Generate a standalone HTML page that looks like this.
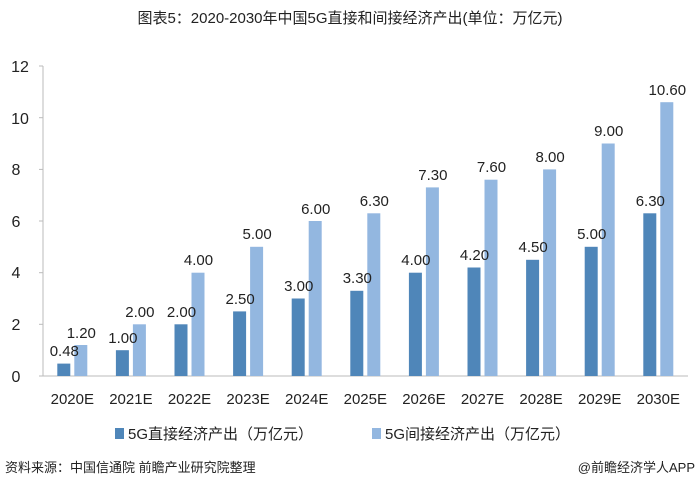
<!DOCTYPE html>
<html><head><meta charset="utf-8"><style>
body{margin:0;background:#fff;}
text{font-family:"Liberation Sans","Noto Sans CJK SC",sans-serif;fill:#222;}
.d{fill:#4f86b9}.l{fill:#93b7e0}
</style></head><body>
<svg width="700" height="489" xmlns="http://www.w3.org/2000/svg">
<text x="350" y="23" text-anchor="middle" font-size="15">图表5：2020-2030年中国5G直接和间接经济产出(单位：万亿元)</text>
<g stroke="#bbb">
<line x1="43" y1="66" x2="43" y2="376"/><line x1="43" y1="376" x2="688" y2="376"/>
<line x1="39" y1="376" x2="43" y2="376"/><line x1="39" y1="324.3" x2="43" y2="324.3"/><line x1="39" y1="272.7" x2="43" y2="272.7"/><line x1="39" y1="221" x2="43" y2="221"/><line x1="39" y1="169.4" x2="43" y2="169.4"/><line x1="39" y1="117.7" x2="43" y2="117.7"/><line x1="39" y1="66" x2="43" y2="66"/>
</g>
<g font-size="16" text-anchor="middle">
<text x="16" y="382">0</text><text x="16" y="330">2</text><text x="16" y="278">4</text><text x="16" y="227">6</text><text x="16" y="175">8</text><text x="20" y="124">10</text><text x="20" y="72">12</text>
</g>
<g>
<rect class="d" x="57.3" y="363.6" width="13" height="12.4"/><rect class="l" x="74.3" y="345" width="13" height="31"/>
<rect class="d" x="115.9" y="350.2" width="13" height="25.8"/><rect class="l" x="132.9" y="324.3" width="13" height="51.7"/>
<rect class="d" x="174.5" y="324.3" width="13" height="51.7"/><rect class="l" x="191.5" y="272.7" width="13" height="103.3"/>
<rect class="d" x="233.1" y="311.4" width="13" height="64.6"/><rect class="l" x="250.1" y="246.8" width="13" height="129.2"/>
<rect class="d" x="291.7" y="298.5" width="13" height="77.5"/><rect class="l" x="308.7" y="221" width="13" height="155"/>
<rect class="d" x="350.3" y="290.8" width="13" height="85.2"/><rect class="l" x="367.3" y="213.3" width="13" height="162.7"/>
<rect class="d" x="408.9" y="272.7" width="13" height="103.3"/><rect class="l" x="425.9" y="187.4" width="13" height="188.6"/>
<rect class="d" x="467.5" y="267.5" width="13" height="108.5"/><rect class="l" x="484.5" y="179.7" width="13" height="196.3"/>
<rect class="d" x="526.1" y="259.8" width="13" height="116.2"/><rect class="l" x="543.1" y="169.4" width="13" height="206.6"/>
<rect class="d" x="584.7" y="246.8" width="13" height="129.2"/><rect class="l" x="601.7" y="143.5" width="13" height="232.5"/>
<rect class="d" x="643.3" y="213.3" width="13" height="162.7"/><rect class="l" x="660.3" y="102.2" width="13" height="273.8"/>
</g>
<g font-size="15" text-anchor="middle">
<text x="64.3" y="356">0.48</text><text x="81.3" y="338">1.20</text>
<text x="122.9" y="343">1.00</text><text x="139.9" y="317">2.00</text>
<text x="181.5" y="317">2.00</text><text x="198.5" y="265">4.00</text>
<text x="240.1" y="304">2.50</text><text x="257.1" y="239">5.00</text>
<text x="298.7" y="291">3.00</text><text x="315.7" y="214">6.00</text>
<text x="357.3" y="283">3.30</text><text x="374.3" y="206">6.30</text>
<text x="415.9" y="265">4.00</text><text x="432.9" y="180">7.30</text>
<text x="474.5" y="260">4.20</text><text x="491.5" y="172">7.60</text>
<text x="533.1" y="252">4.50</text><text x="550.1" y="162">8.00</text>
<text x="591.7" y="239">5.00</text><text x="608.7" y="136">9.00</text>
<text x="650.3" y="206">6.30</text><text x="667.3" y="95">10.60</text>
</g>
<g font-size="15" text-anchor="middle">
<text x="72.3" y="404">2020E</text><text x="130.9" y="404">2021E</text><text x="189.5" y="404">2022E</text><text x="248.1" y="404">2023E</text><text x="306.7" y="404">2024E</text><text x="365.3" y="404">2025E</text><text x="423.9" y="404">2026E</text><text x="482.5" y="404">2027E</text><text x="541.1" y="404">2028E</text><text x="599.7" y="404">2029E</text><text x="658.3" y="404">2030E</text>
</g>
<rect class="d" x="115" y="428" width="9" height="11"/>
<text x="128" y="439" font-size="15">5G直接经济产出（万亿元）</text>
<rect class="l" x="372" y="428" width="9" height="11"/>
<text x="385" y="439" font-size="15">5G间接经济产出（万亿元）</text>
<text x="5" y="472" font-size="13">资料来源：中国信通院 前瞻产业研究院整理</text>
<text x="695" y="472" font-size="13" text-anchor="end">@前瞻经济学人APP</text>
</svg>
</body></html>
